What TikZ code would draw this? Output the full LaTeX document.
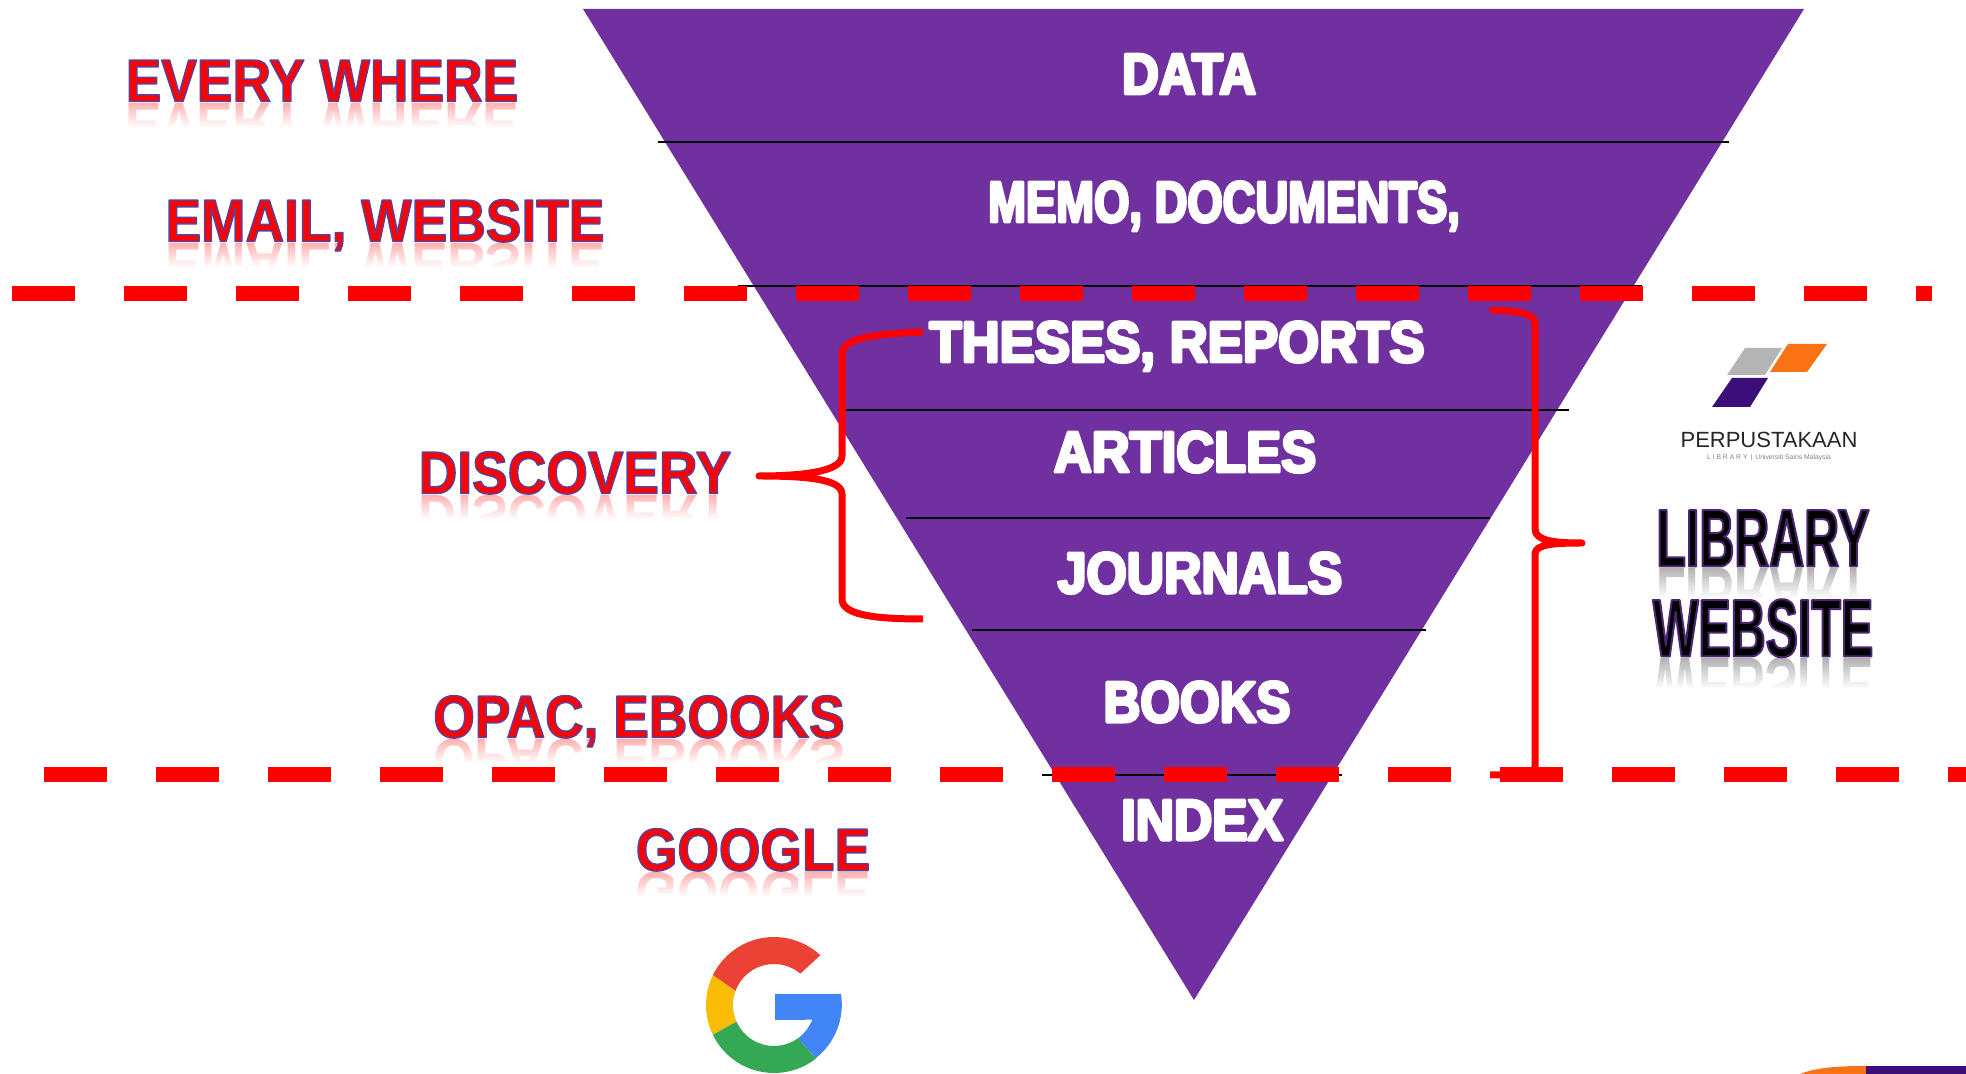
\documentclass[tikz,border=0pt]{standalone}
\usepackage{fontspec}
\usetikzlibrary{fadings}
\newfontfamily\labelfont[FakeStretch=0.87]{Liberation Sans}
\newfontfamily\redfont[FakeStretch=0.89]{Liberation Sans}
\newfontfamily\sitefont[FakeStretch=0.59]{Liberation Sans}
\newfontfamily\logofont{Liberation Sans}
\definecolor{funnel}{HTML}{7030A0}
\definecolor{logopurple}{HTML}{3A0D78}
\definecolor{logoorange}{HTML}{F97316}
\definecolor{logogrey}{HTML}{B4B4B4}
\definecolor{gred}{HTML}{EA4335}
\definecolor{gyellow}{HTML}{FBBC05}
\definecolor{ggreen}{HTML}{34A853}
\definecolor{gblue}{HTML}{4285F4}
% text with a coloured stroke round the letters
\newcommand{\outlined}[3]{\special{pdf:code #1 RG #2 w 1 j 2 Tr}#3\special{pdf:code 0 Tr 1 w 0 j}}
\tikzset{
    redtext/.style={inner sep=0pt, text=red, text height=43pt, text depth=0pt, font=\redfont\bfseries\fontsize{60}{60}\selectfont},
    whitetext/.style={inner sep=0pt, text=white, text height=42pt, text depth=0pt, font=\labelfont\bfseries\fontsize{58}{58}\selectfont},
    sitetext/.style={inner sep=0pt, text=black, text height=59pt, text depth=0pt, font=\sitefont\bfseries\fontsize{82}{82}\selectfont},
    mirrored/.style={yscale=-1, transform shape, opacity=0.3},
    divider/.style={black, line width=1.6pt},
    cutline/.style={red, line width=15pt, dash pattern=on 63pt off 49pt},
    bracket/.style={red, line width=7pt, line join=round}
}
\begin{document}
\begin{tikzpicture}[x=1pt,y=1pt]
    \useasboundingbox (0,0) rectangle (1966,1074);

    % Draw the red labels with their reflections
    \foreach \name/\x/\y/\txt in {every/322/994/{EVERY WHERE}, email/385/854/{EMAIL, WEBSITE}, discovery/575/602/{DISCOVERY}, opac/639/358/{OPAC, EBOOKS}, google/753/225/{GOOGLE}} {
        \node[redtext, mirrored] (\name-r) at (\x,\y-45) {\txt};
        \fill[white, path fading=north] ([xshift=-4pt]\name-r.south west) rectangle ([xshift=4pt,yshift=-24pt]\name-r.south east);
        \fill[white] ([xshift=-4pt,yshift=-24pt]\name-r.south west) rectangle ([xshift=4pt,yshift=-12pt]\name-r.north east);
        \node[redtext] (\name) at (\x,\y) {\outlined{0.36 0.25 0.6}{1.5}{\txt}};
    }

    % Draw the website title
    \foreach \name/\y/\txt in {library/537/LIBRARY, website/447/WEBSITE} {
        \node[sitetext, mirrored] (\name-r) at (1763,\y-61) {\txt};
        \fill[white, path fading=north] ([xshift=-4pt]\name-r.south west) rectangle ([xshift=4pt,yshift=-30pt]\name-r.south east);
        \fill[white] ([xshift=-4pt,yshift=-30pt]\name-r.south west) rectangle ([xshift=4pt]\name-r.north east);
        \node[sitetext] (\name) at (1763,\y) {\outlined{0.3 0.15 0.45}{2}{\txt}};
    }

    % Draw the logo
    \fill[logogrey] (1727,699) -- (1745,726) -- (1782,726) -- (1765,699) -- cycle;
    \fill[logoorange] (1770,702) -- (1788,730) -- (1827,730) -- (1807,702) -- cycle;
    \fill[logopurple] (1712,667) -- (1732,696) -- (1768,696) -- (1750,667) -- cycle;
    \node[inner sep=0pt, text=black!85, font=\logofont\fontsize{22}{22}\selectfont] (perpus) at (1769,634) {PERPUSTAKAAN};
    \node[inner sep=0pt, text=black!50, font=\logofont\fontsize{6.8}{7}\selectfont] (usm) at (1769,616) {L I B R A R Y \,|\, Universiti Sains Malaysia};

    % Draw the funnel
    \fill[funnel] (583,1065) -- (1804,1065) -- (1194,74) -- cycle;

    % Draw the dividers
    \draw[divider] (658,932) -- (1729,932);
    \draw[divider] (738,788) -- (1642,788);
    \draw[divider] (846,664) -- (1569,664);
    \draw[divider] (906,556) -- (1490,556);
    \draw[divider] (972,444) -- (1426,444);
    \draw[divider] (1042,299) -- (1342,299);

    % Draw the funnel labels
    \foreach \name/\x/\y/\s/\txt in {data/1189/1001/1.01/{DATA}, memo/1224/873/0.9/{MEMO, DOCUMENTS,}, theses/1177/733/1.045/{THESES, REPORTS}, articles/1185/623/1.04/{ARTICLES}, journals/1200/502/1.025/{JOURNALS}, books/1197/373/1.01/{BOOKS}, index/1202/255/1.05/{INDEX}} {
        \node[whitetext, xscale=\s, transform shape] (\name) at (\x,\y) {\outlined{1 1 1}{3}{\txt}};
    }

    % Draw the red cut lines
    \draw[cutline] (12,780) -- (1932,780);
    \draw[cutline] (44,299) -- (1966,299);

    % Draw the brackets
    \coordinate (ltop) at (923,742);
    \coordinate (ltip) at (759,598);
    \coordinate (lbot) at (923,455);
    \coordinate (rtop) at (1490,764);
    \coordinate (rtip) at (1582,531);
    \coordinate (rbot) at (1490,299);
    \draw[bracket] (ltop) .. controls (870,740) and (842,735) .. (842,720) -- (842,618) .. controls (842,602) and (800,598) .. (ltip) .. controls (800,598) and (842,596) .. (842,580) -- (842,475) .. controls (842,460) and (870,455) .. (lbot);
    \draw[bracket] (rtop) .. controls (1515,763) and (1535,762) .. (1535,750) -- (1535,545) .. controls (1535,533) and (1555,531) .. (rtip) .. controls (1555,531) and (1535,530) .. (1535,520) -- (1535,307) .. controls (1535,300) and (1510,299) .. (rbot);

    % Draw the G mark
    \coordinate (gc) at (774,69);
    \foreach \col/\a/\b/\c/\d in {gred/47/154/160/50, gyellow/154/206/204/160, ggreen/206/308/306/204} {
        \fill[\col] ([shift={(\a:68pt)}]gc) arc[start angle=\a, end angle=\b, radius=68pt] -- ([shift={(\c:41pt)}]gc) arc[start angle=\c, end angle=\d, radius=41pt] -- cycle;
    }
    \fill[gblue] (775,80) -- (841,80) arc[start angle=9, end angle=-52, radius=68pt] -- ([shift={(-54:41pt)}]gc) arc[start angle=-54, end angle=-21, radius=41pt] -- (775,54) -- cycle;

    % Draw the corner mark
    \fill[logoorange] (1800,0) .. controls (1815,6) and (1835,8) .. (1866,8) -- (1866,0) -- cycle;
    \fill[logopurple] (1866,0) rectangle (1966,8);
\end{tikzpicture}
\end{document}
